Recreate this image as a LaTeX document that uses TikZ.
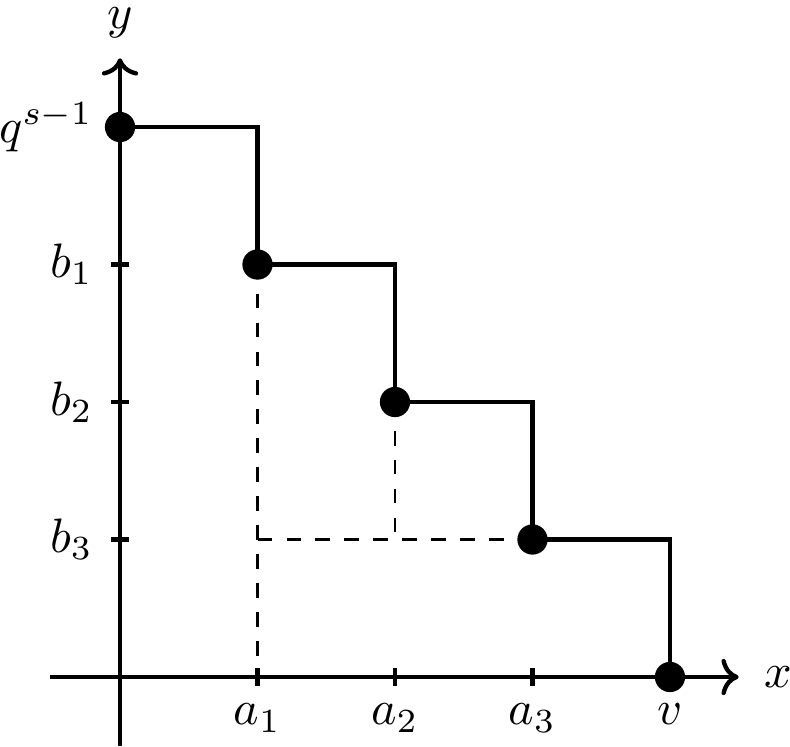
\documentclass[tikz,border=0pt]{standalone}
\usetikzlibrary{arrows.meta}
\begin{document}
\begin{tikzpicture}[line width=0.9pt,
  dot/.style={circle,fill,inner sep=0pt,minimum size=0.22cm},
  lbl/.style={inner sep=0.117cm},
  dashline/.style={dashed,line width=0.6pt}]
\useasboundingbox (-0.873,-0.502) rectangle (4.873,4.924);
% axes
\coordinate (xs) at (-0.51,0);
\coordinate (xe) at (4.5,0);
\coordinate (ys) at (0,-0.5);
\coordinate (ye) at (0,4.5);
\draw[->] (xs) -- (xe);
\draw[->] (ys) -- (ye);
\node[inner sep=0pt,anchor=west] (xl) at (4.67,0) {$x$};
\node[inner sep=0pt,anchor=base] (yl) at (0,4.72) {$y$};
% points
\coordinate (p0) at (0,4);
\coordinate (p1) at (1,3);
\coordinate (p2) at (2,2);
\coordinate (p3) at (3,1);
\coordinate (p4) at (4,0);
\coordinate (a1) at (1,0);
\coordinate (a2) at (2,0);
\coordinate (a3) at (3,0);
\coordinate (b1) at (0,3);
\coordinate (b2) at (0,2);
\coordinate (b3) at (0,1);
\coordinate (c21) at (2,1);
\coordinate (c11) at (1,1);
% ticks
\foreach \i in {1,2,3}{
  \draw (\i,-0.065) -- (\i,0.065);
  \draw (-0.065,\i) -- (0.065,\i);
}
% dashed guides
\draw[dashline] (p1) -- (a1);
\draw[dashline] (p2) -- (c21);
\draw[dashline] (c11) -- (p3);
% staircase
\draw (p0) -| (p1) -| (p2) -| (p3) -| (p4);
% dots
\node[dot] (d0) at (p0) {};
\node[dot] (d1) at (p1) {};
\node[dot] (d2) at (p2) {};
\node[dot] (d3) at (p3) {};
\node[dot] (d4) at (p4) {};
% labels
\node[lbl,below] (la1) at (1,-0.065) {$a_1$};
\node[lbl,below] (la2) at (2,-0.065) {$a_2$};
\node[lbl,below] (la3) at (3,-0.065) {$a_3$};
\node[lbl,below] (lv) at (4,-0.065) {$v$};
\node[lbl,left] (lb1) at (-0.065,3) {$b_1$};
\node[lbl,left] (lb2) at (-0.065,2) {$b_2$};
\node[lbl,left] (lb3) at (-0.065,1) {$b_3$};
\node[lbl,left] (lq) at (-0.065,4) {$q^{s-1}$};
\end{tikzpicture}
\end{document}
